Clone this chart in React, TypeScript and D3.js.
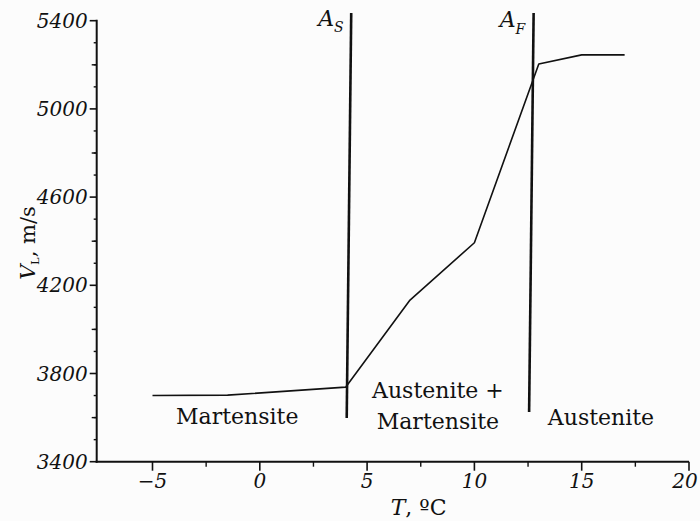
import React from 'react';
import * as d3 from 'd3';

// measured curve: longitudinal velocity vs temperature
const temps = [-5, -1.5, 4, 7, 10, 13, 15, 17];
const velocities = [3700, 3702, 3738, 4133, 4393, 5204, 5245, 5245];

// phase boundary lines (top point, bottom point)
const asLineT = [4.26, 4.05];
const asLineV = [5435, 3598];
const afLineT = [12.76, 12.55];
const afLineV = [5435, 3625];

const xMajorTicks = [-5, 0, 5, 10, 15, 20];
const xMinorTicks = [-2.5, 2.5, 7.5, 12.5, 17.5];
const yMajorTicks = [3400, 3800, 4200, 4600, 5000, 5400];
const yMinorTicks = d3.range(3500, 5400, 100).filter(v => v % 400 !== 200);
const yMidTicks = [3600, 4000, 4400, 4800, 5200];

const W = 700;
const H = 521;
const FONT = '"DejaVu Serif", "Liberation Serif", serif';

const App = () => {
    const x = d3.scaleLinear().domain([-7.6, 20]).range([96.7, 689]);
    const y = d3.scaleLinear().domain([3400, 5400]).range([461.7, 20.7]);

    const line = d3.line<number>()
        .x((_, i) => x(temps[i]))
        .y(d => y(d));

    const x0 = x.range()[0];
    const y0 = y.range()[0];

    return (
        <div style={{ position: 'absolute', left: 0, top: 0 }}>
            <svg width={W} height={H} style={{ display: 'block', background: '#fcfcfc' }} fontFamily={FONT}>
                {/* curve */}
                <path d={line(velocities) || ''} fill="none" stroke="#111" strokeWidth={1.6} strokeLinejoin="round" />

                {/* As / Af boundaries */}
                <line x1={x(asLineT[0])} y1={y(asLineV[0])} x2={x(asLineT[1])} y2={y(asLineV[1])} stroke="#111" strokeWidth={2.6} />
                <line x1={x(afLineT[0])} y1={y(afLineV[0])} x2={x(afLineT[1])} y2={y(afLineV[1])} stroke="#111" strokeWidth={2.6} />

                <text x={x(asLineT[0]) - 33} y={26} fontSize={22} fontStyle="italic" fill="#111">
                    A<tspan fontSize={14} dy={6}>S</tspan>
                </text>
                <text x={x(afLineT[0]) - 34} y={27} fontSize={22} fontStyle="italic" fill="#111">
                    A<tspan fontSize={14} dy={7}>F</tspan>
                </text>

                {/* region labels */}
                <text x={x(-1.05)} y={424} fontSize={22} textAnchor="middle" fill="#111">Martensite</text>
                <text x={x(8.3)} y={398} fontSize={22} textAnchor="middle" fill="#111">Austenite +</text>
                <text x={x(8.3)} y={429} fontSize={22} textAnchor="middle" fill="#111">Martensite</text>
                <text x={x(15.9)} y={425} fontSize={22} textAnchor="middle" fill="#111">Austenite</text>

                {/* y axis */}
                <line x1={x0} y1={y(5400) - 1} x2={x0} y2={y0 + 1} stroke="#111" strokeWidth={2} />
                {yMajorTicks.map(v => (
                    <g key={'ym' + v}>
                        <line x1={x0 - 7} x2={x0} y1={y(v)} y2={y(v)} stroke="#111" strokeWidth={1.6} />
                        <text x={x0 - 9} y={y(v) + 7} fontSize={20} fontStyle="italic" textAnchor="end" fill="#111">{v}</text>
                    </g>
                ))}
                {yMidTicks.map(v => (
                    <line key={'yd' + v} x1={x0 - 5} x2={x0} y1={y(v)} y2={y(v)} stroke="#111" strokeWidth={1.4} />
                ))}
                {yMinorTicks.map(v => (
                    <line key={'yn' + v} x1={x0 - 3} x2={x0} y1={y(v)} y2={y(v)} stroke="#111" strokeWidth={1.4} />
                ))}
                <text transform={`translate(35,243) rotate(-90)`} fontSize={21} textAnchor="middle" fill="#111">
                    <tspan fontStyle="italic">V</tspan><tspan fontSize={11} dy={4}>L</tspan><tspan dy={-4}>, m/s</tspan>
                </text>

                {/* x axis */}
                <line x1={x0 - 1} x2={x(20)} y1={y0} y2={y0} stroke="#111" strokeWidth={2} />
                {xMajorTicks.map(t => (
                    <g key={'xm' + t}>
                        <line x1={x(t)} x2={x(t)} y1={y0} y2={y0 + 9} stroke="#111" strokeWidth={1.6} />
                        <text x={Math.min(x(t), W - 15)} y={488} fontSize={20} fontStyle="italic" textAnchor="middle" fill="#111">
                            {t < 0 ? '\u2212' + Math.abs(t) : t}
                        </text>
                    </g>
                ))}
                {xMinorTicks.map(t => (
                    <line key={'xn' + t} x1={x(t)} x2={x(t)} y1={y0} y2={y0 + 5} stroke="#111" strokeWidth={1.4} />
                ))}
                <text x={x(7.4)} y={515} fontSize={22} textAnchor="middle" fill="#111">
                    <tspan fontStyle="italic">T</tspan>, ºC
                </text>
            </svg>
        </div>
    );
};

export default App;
